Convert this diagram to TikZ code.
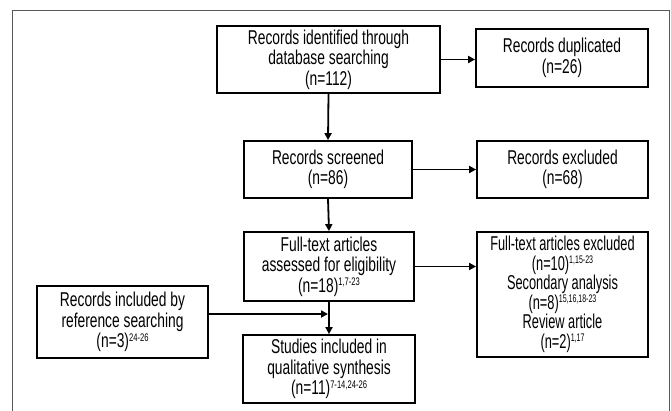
\documentclass[tikz,border=0pt]{standalone}
\usepackage{fontspec}
\setmainfont{Liberation Sans}[FakeStretch=0.69]
\newfontfamily\narrowsans{Liberation Sans}[FakeStretch=0.64]
\usetikzlibrary{arrows.meta}
\newcommand\sref[1]{\raisebox{0.62ex}{\fontsize{11}{11}\selectfont #1}}
\begin{document}
\begin{tikzpicture}[x=1pt,y=-1pt,
	box/.style={draw,line width=1.8pt,align=center,inner sep=0pt,
		font=\fontsize{20}{20.5}\selectfont},
	flow/.style={line width=1.8pt,-{Triangle[length=7pt,width=7pt]}}]
	\useasboundingbox (0,0) rectangle (671,410);
	% outer frame, open at the bottom
	\draw[gray!70!black,line width=1pt] (12,415)--(12,10)--(669,10)--(669,415);
	% boxes
	\node[box,minimum width=223,minimum height=67] (ident) at (328.5,59.5)
		{Records identified through\\database searching\\(n=112)};
	\node[box,minimum width=172,minimum height=58] (dup) at (562,58)
		{Records duplicated\\(n=26)};
	\node[box,minimum width=168,minimum height=57] (screen) at (328,169.5)
		{Records screened\\(n=86)};
	\node[box,minimum width=171,minimum height=57] (excl) at (562.5,169.5)
		{Records excluded\\(n=68)};
	\node[box,minimum width=170,minimum height=69] (full) at (329,266.5)
		{Full-text articles\\assessed for eligibility\\(n=18)\sref{1,7-23}};
	\node[box,minimum width=171,minimum height=125,
		font=\narrowsans\fontsize{20}{19.5}\selectfont] (ftexcl) at (562.5,294.5)
		{Full-text articles excluded\\(n=10)\sref{1,15-23}\\Secondary analysis\\(n=8)\sref{15,16,18-23}\\Review article\\(n=2)\sref{1,17}};
	\node[box,minimum width=171,minimum height=72] (refsrch) at (122.5,322)
		{Records included by\\reference searching\\(n=3)\sref{24-26}};
	\node[box,minimum width=172,minimum height=68] (studies) at (329,369)
		{Studies included in\\qualitative synthesis\\(n=11)\sref{7-14,24-26}};
	\coordinate (mrg) at (328,314);
	% connectors
	\draw[flow] (ident.east) -- (dup.west |- ident.east);
	\draw[flow] (ident.south) -- (screen.north);
	\draw[flow] (screen.east) -- (excl.west);
	\draw[flow] (screen.south) -- (full.north);
	\draw[flow] (full.east) -- (ftexcl.west |- full.east);
	\draw[flow] (full.south) -- (studies.north);
	\draw[flow] (refsrch.east |- mrg) -- (mrg);
\end{tikzpicture}
\end{document}
